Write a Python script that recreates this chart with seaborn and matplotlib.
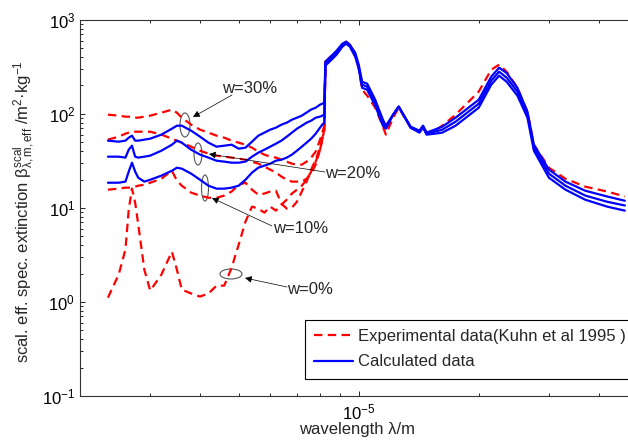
import numpy as np
import matplotlib
matplotlib.use("Agg")
import matplotlib.pyplot as plt
from matplotlib.lines import Line2D
from matplotlib.patches import Ellipse
from matplotlib.ticker import LogLocator, NullFormatter, LogFormatterSciNotation
import seaborn as sns

# ---------------- data (wavelength in micrometres, extinction in m^2/kg) -------------
wl_left = [2.35, 2.5, 2.6, 2.65, 2.7, 2.75, 2.8, 2.9, 3.0, 3.2, 3.4, 3.5, 3.6, 3.8,
           4.0, 4.2, 4.4, 4.6, 4.8, 5.0, 5.2, 5.4, 5.6, 5.8, 6.0, 6.2, 6.4, 6.6,
           6.8, 7.0, 7.2, 7.4, 7.6, 7.8, 8.0, 8.1, 8.2]
wl_right = [8.25, 8.5, 8.8, 9.1, 9.3, 9.5, 9.8, 10.0, 10.2, 10.5, 11.0, 11.5, 11.7,
            12.2, 12.6, 13.5, 14.2, 14.5, 14.8, 15.5, 16.2, 17.5, 20, 21.5, 22.5,
            23.5, 25, 26.5, 27.5, 30, 33, 37, 42, 46.5]

# experimental data (Kuhn et al 1995), short-wave part for each water content w
exp_w30_left = [97.8, 95.5, 93.2, 93.2, 90.9, 90.9, 90.9, 93.2, 95.5, 102.7, 110.6, 102.7,
                90.9, 76.6, 67.8, 63.0, 58.5, 55.7, 51.8, 49.3, 46.9, 43.6, 39.6, 36.8,
                35.0, 34.2, 32.5, 31.0, 29.5, 28.8, 28.8, 31.0, 34.2, 39.6, 53.1, 63.0, 74.7]
exp_w20_left = [53.1, 57.1, 61.4, 63.0, 63.0, 64.5, 64.5, 64.5, 64.5, 60.0, 54.4, 51.8,
                49.3, 44.7, 40.5, 37.7, 35.9, 35.0, 34.2, 33.3, 32.5, 31.0, 29.5, 27.4,
                25.5, 23.7, 21.5, 19.9, 19.0, 19.0, 19.0, 20.4, 23.1, 28.8, 41.5, 53.1, 67.8]
exp_w10_left = [15.6, 16.0, 16.4, 16.4, 16.4, 16.8, 17.2, 17.6, 18.5, 20.4, 24.8, 19.5,
                17.2, 14.5, 13.5, 12.8, 12.8, 13.5, 14.9, 17.6, 18.5, 15.6, 13.8, 14.2,
                14.9, 15.2, 11.1, 9.81, 10.05, 11.6, 14.9, 19.0, 25.5, 32.5, 43.6, 55.7, 71.2]
exp_w0_left = [1.11, 1.95, 3.60, 9.57, 16.0, 11.4, 6.63, 2.20, 1.32, 1.95, 3.42, 2.20,
               1.35, 1.23, 1.14, 1.23, 1.49, 1.49, 2.31, 4.06, 7.13, 10.3, 9.81, 8.89,
               10.3, 9.34, 10.8, 12.2, 14.2, 15.6, 17.2, 19.9, 24.3, 31.0, 41.5, 53.1, 67.8]
# long-wave part (common to all w)
exp_right = [358, 404, 457, 542, 584, 542, 425, 309, 180, 156, 116, 72.9, 60.0, 90.9,
             116, 71.2, 64.5, 74.7, 63.0, 66.1, 74.7, 97.8, 172, 294, 333, 280, 189,
             105, 46.9, 26.7, 20.4, 16.8, 14.9, 13.2]

# calculated data
calc_w30_left = [51.8, 50.5, 51.8, 55.7, 58.5, 51.8, 51.8, 53.1, 54.4, 60.0, 69.4, 74.7,
                 74.7, 66.1, 57.1, 49.3, 44.7, 45.8, 46.9, 42.6, 43.6, 50.5, 58.5, 63.0,
                 67.8, 71.2, 76.6, 80.4, 86.5, 90.9, 95.5, 103, 111, 116, 125, 128, 131]
calc_w20_left = [35.0, 35.0, 34.2, 41.5, 45.8, 35.0, 34.2, 35.0, 35.9, 40.5, 46.9, 51.8,
                 49.3, 41.5, 36.8, 34.2, 31.7, 31.0, 30.2, 30.2, 31.0, 35.0, 38.6, 41.5,
                 44.7, 48.1, 51.8, 57.1, 63.0, 69.4, 74.7, 80.4, 84.5, 90.9, 93.2, 95.5, 97.8]
calc_w10_left = [18.5, 18.5, 19.0, 24.3, 30.2, 24.3, 20.9, 19.0, 19.9, 22.0, 24.8, 26.7,
                 26.1, 23.1, 19.9, 17.2, 16.0, 16.0, 16.4, 17.2, 19.9, 23.7, 26.7, 28.1,
                 29.5, 31.7, 32.5, 34.2, 36.8, 40.5, 44.7, 49.3, 54.4, 61.4, 71.2, 76.6, 80.4]
calc_w30_right = [358, 404, 468, 556, 584, 542, 446, 333, 219, 209, 141, 86.5, 74.7, 97.8,
                  119, 72.9, 66.1, 74.7, 63.0, 67.8, 72.9, 90.9, 141, 248, 309, 271, 189,
                  105, 46.9, 25.5, 19.0, 15.2, 13.2, 11.9]
calc_w20_right = [341, 385, 446, 542, 570, 529, 425, 317, 204, 194, 131, 80.4, 71.2, 97.8,
                  119, 71.2, 64.5, 72.9, 61.4, 64.5, 67.8, 82.4, 128, 225, 280, 242, 172,
                  97.8, 43.6, 23.1, 17.2, 13.5, 11.6, 10.6]
calc_w10_right = [325, 367, 425, 517, 556, 517, 404, 302, 189, 180, 122, 74.7, 69.4, 97.8,
                  119, 71.2, 63.0, 71.2, 60.0, 61.4, 63.0, 74.7, 116, 204, 254, 219, 156,
                  90.9, 40.5, 20.9, 15.6, 12.2, 10.3, 9.34]

legend_labels = ["Experimental data(Kuhn et al 1995 )", "Calculated data"]
w_labels = ["w=30%", "w=20%", "w=10%", "w=0%"]

# ---------------- style ----------------
sns.set_style("white")
plt.rcParams['font.family'] = ['Liberation Sans', 'DejaVu Sans']
plt.rcParams['mathtext.fontset'] = 'custom'
plt.rcParams['mathtext.rm'] = 'Liberation Sans'
plt.rcParams['mathtext.it'] = 'Liberation Sans:italic'
plt.rcParams['mathtext.bf'] = 'Liberation Sans:bold'
plt.rcParams['axes.unicode_minus'] = False

FS = 12
RED = '#ff0000'
BLUE = '#0000ff'
DASH = (0, (3.8, 2.4))
LW = 1.6
um = 1e-6

fig = plt.figure(figsize=(6.28, 4.45), dpi=100)
fig.patch.set_facecolor('white')
AX_L, AX_R, AX_T, AX_B = 80.0, 637.4, 19.7, 396.0
ax = fig.add_axes([AX_L / 628, (445 - AX_B) / 445, (AX_R - AX_L) / 628, (AX_B - AX_T) / 445])
ax.set_xscale('log')
ax.set_yscale('log')


def draw(xs, ys, color, ls):
    sns.lineplot(x=np.asarray(xs, float) * um, y=np.asarray(ys, float), ax=ax,
                 color=color, linestyle=ls, linewidth=LW, estimator=None,
                 sort=False, legend=False)


# experimental (red dashed)
for left in [exp_w30_left, exp_w20_left, exp_w10_left, exp_w0_left]:
    draw(wl_left + wl_right[:1], left + exp_right[:1], RED, DASH)
draw(wl_right, exp_right, RED, DASH)

# calculated (blue solid)
for left, right in [(calc_w30_left, calc_w30_right), (calc_w20_left, calc_w20_right),
                    (calc_w10_left, calc_w10_right)]:
    draw(wl_left + wl_right, left + right, BLUE, '-')

ax.set_xlim(2e-6, 5e-5)
ax.set_ylim(0.1, 1000)

for axis in (ax.xaxis, ax.yaxis):
    axis.set_major_locator(LogLocator(base=10, numticks=15))
    axis.set_minor_locator(LogLocator(base=10, subs=np.arange(2, 10), numticks=30))
    axis.set_major_formatter(LogFormatterSciNotation())
    axis.set_minor_formatter(NullFormatter())

ax.tick_params(which='both', direction='in', bottom=True, left=True, top=True, right=True,
               labelsize=FS, colors='black', width=0.6)
ax.tick_params(which='major', length=3.6)
ax.tick_params(which='minor', length=2.2)
ax.tick_params(axis='x', which='major', pad=5)
ax.tick_params(axis='y', which='major', pad=3.5)
for sp in ax.spines.values():
    sp.set_visible(True)
    sp.set_color('#333333')
    sp.set_linewidth(0.8)
ax.grid(False)

ax.set_xlabel('wavelength λ/m', fontsize=FS)
ax.set_ylabel(r'scal. eff. spec. extinction $\mathrm{β}^{\mathrm{scal}}_{\mathrm{λ,m,eff}}$ /m$^{2}$·kg$^{-1}$',
              fontsize=FS)


def af(px, py):
    return ((px - AX_L) / (AX_R - AX_L), (AX_B - py) / (AX_B - AX_T))


ax.xaxis.set_label_coords(*af(357, 422))
ax.yaxis.set_label_coords(af(37, 0)[0], af(0, 212)[1])

# legend
handles = [Line2D([], [], color=RED, linestyle=DASH, linewidth=LW),
           Line2D([], [], color=BLUE, linestyle='-', linewidth=LW)]
leg = ax.legend(handles, legend_labels, loc='upper left', bbox_to_anchor=af(305, 320),
                bbox_transform=ax.transAxes, borderaxespad=0, frameon=True,
                fancybox=False, edgecolor='black', framealpha=1, fontsize=FS,
                handlelength=2.3, handletextpad=0.3, borderpad=0.55, labelspacing=0.62)
leg.get_frame().set_linewidth(0.8)

# annotations: (text pos, arrow tail, arrow head, ellipse centre, ellipse size) in px
annots = [
    ((222, 88), (232, 95), (193, 117), (185, 125), (10, 24)),
    ((325, 173), (325, 172), (209, 154), (198, 154), (8, 22)),
    ((273, 228), (272, 226), (212, 198), (205, 188), (7, 26)),
    ((287, 290), (287, 287), (245, 278), (231, 274), (22, 10)),
]
for lab, (tpos, tail, head, ctr, size) in zip(w_labels, annots):
    ax.text(*af(*tpos), lab, transform=ax.transAxes, ha='left', va='center', fontsize=FS)
    ax.annotate('', xy=af(*head), xytext=af(*tail), xycoords='axes fraction',
                textcoords='axes fraction',
                arrowprops=dict(arrowstyle='-|>', color='black', lw=0.5,
                                mutation_scale=10, shrinkA=0, shrinkB=0))
    ax.add_patch(Ellipse(af(*ctr), size[0] / (AX_R - AX_L), size[1] / (AX_B - AX_T),
                         transform=ax.transAxes, fill=False, edgecolor='#555555', lw=0.8))

fig.savefig('out.png', dpi=100, facecolor='white')
